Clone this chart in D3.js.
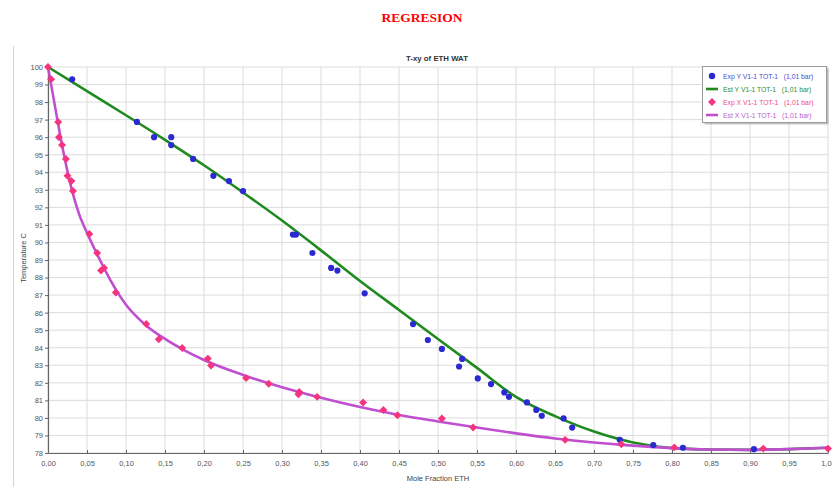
<!DOCTYPE html>
<html><head><meta charset="utf-8">
<script src="https://cdn.jsdelivr.net/npm/d3@7"></script>
<style>body{margin:0;background:#fff;} svg{display:block;}</style>
</head><body><svg id="c" width="832" height="487"></svg>
<script>
const mainTitle = "REGRESION";
const chartTitle = "T-xy of ETH WAT";
const xLabel = "Mole Fraction ETH";
const yLabel = "Temperature C";
const legendLabels = ["Exp Y V1-1 TOT-1   (1,01 bar)", "Est Y V1-1 TOT-1   (1,01 bar)", "Exp X V1-1 TOT-1   (1,01 bar)", "Est X V1-1 TOT-1   (1,01 bar)"];
const xTicks = [0,0.05,0.1,0.15,0.2,0.25,0.3,0.35,0.4,0.45,0.5,0.55,0.6,0.65,0.7,0.75,0.8,0.85,0.9,0.95,1.0];
const yTicks = [78,79,80,81,82,83,84,85,86,87,88,89,90,91,92,93,94,95,96,97,98,99,100];

// Exp Y (vapour) points [x, T]
const expY = [[0.031,99.3],[0.114,96.87],[0.136,96.0],[0.158,96.0],[0.158,95.55],[0.186,94.76],[0.212,93.8],[0.232,93.5],[0.25,92.93],[0.314,90.45],[0.318,90.45],[0.339,89.4],[0.363,88.55],[0.371,88.4],[0.406,87.1],[0.468,85.35],[0.487,84.44],[0.505,83.93],[0.531,83.36],[0.527,82.93],[0.551,82.25],[0.568,81.93],[0.585,81.45],[0.591,81.2],[0.614,80.88],[0.626,80.45],[0.633,80.12],[0.661,79.97],[0.672,79.45],[0.733,78.75],[0.776,78.45],[0.814,78.3],[0.905,78.22]];
// Est Y curve
const estY = [[0,100],[0.05,98.62],[0.1,97.25],[0.15,95.85],[0.2,94.4],[0.25,92.85],[0.3,91.25],[0.35,89.55],[0.4,87.8],[0.45,86.15],[0.5,84.5],[0.55,82.85],[0.6,81.2],[0.65,80.1],[0.7,79.22],[0.75,78.6],[0.8,78.28],[0.85,78.2],[0.9,78.18],[0.95,78.22],[1.0,78.3]];
// Exp X (liquid) points
const expX = [[0,100],[0.004,99.3],[0.013,96.87],[0.014,96.0],[0.018,95.55],[0.023,94.76],[0.025,93.8],[0.030,93.5],[0.032,92.93],[0.053,90.48],[0.063,89.4],[0.068,88.4],[0.072,88.55],[0.087,87.15],[0.126,85.35],[0.142,84.48],[0.172,83.98],[0.205,83.38],[0.209,82.98],[0.254,82.27],[0.283,81.95],[0.322,81.48],[0.321,81.35],[0.345,81.2],[0.404,80.88],[0.430,80.45],[0.448,80.15],[0.505,79.97],[0.545,79.45],[0.663,78.75],[0.735,78.5],[0.803,78.32],[0.917,78.25],[1.0,78.25]];
// Est X curve
const estX = [[0,100],[0.01,97.5],[0.02,95.1],[0.03,93.1],[0.04,91.6],[0.05,90.55],[0.06,89.6],[0.07,88.7],[0.08,87.85],[0.09,87.1],[0.1,86.45],[0.125,85.3],[0.15,84.5],[0.175,83.85],[0.2,83.3],[0.25,82.45],[0.3,81.75],[0.35,81.15],[0.4,80.62],[0.45,80.17],[0.5,79.8],[0.55,79.45],[0.6,79.12],[0.65,78.83],[0.7,78.6],[0.75,78.42],[0.8,78.28],[0.85,78.2],[0.9,78.18],[0.95,78.22],[1.0,78.3]];

const colBlue = "#2a2ad0", colGreen = "#1f8a1f", colPink = "#f5347f", colMag = "#c04fd0";

const svg = d3.select("#c");
const L = 48, R = 828, T = 67, B = 453;
const x = d3.scaleLinear().domain([0,1]).range([L,R]);
const y = d3.scaleLinear().domain([78,100]).range([B,T]);

svg.append("line").attr("x1",13.5).attr("x2",13.5).attr("y1",46).attr("y2",487).attr("stroke","#d4d4d4");

svg.append("text").attr("x",422).attr("y",22).attr("text-anchor","middle")
  .attr("font-family","Liberation Serif, serif").attr("font-weight","bold").attr("font-size",13.5)
  .attr("fill","#ff0000").text(mainTitle);
svg.append("text").attr("x",437).attr("y",61).attr("text-anchor","middle")
  .attr("font-family","Liberation Sans, Arial, sans-serif").attr("font-weight","bold").attr("font-size",7.8)
  .attr("fill","#333").text(chartTitle);

const g = svg.append("g");
g.selectAll(".vg").data(xTicks).join("line").attr("x1",d=>x(d)).attr("x2",d=>x(d)).attr("y1",T).attr("y2",B)
  .attr("stroke","#dcdcdc").attr("stroke-width",1);
g.selectAll(".hg").data(yTicks).join("line").attr("x1",L).attr("x2",R).attr("y1",d=>y(d)).attr("y2",d=>y(d))
  .attr("stroke","#dcdcdc").attr("stroke-width",1);

const fmt = d => d3.format(".2f")(d).replace(".",",");
const xa = svg.append("g").attr("transform",`translate(0,${B})`)
  .call(d3.axisBottom(x).tickValues(xTicks).tickFormat(fmt).tickSizeInner(-3).tickSizeOuter(0).tickPadding(8));
const ya = svg.append("g").attr("transform",`translate(${L},0)`)
  .call(d3.axisLeft(y).tickValues(yTicks).tickFormat(d3.format("d")).tickSizeInner(3).tickSizeOuter(0).tickPadding(2));
[xa,ya].forEach(a=>{
  a.select(".domain").attr("stroke","#666").attr("stroke-width",1.2);
  a.selectAll(".tick line").attr("stroke","#666");
  a.selectAll("text").attr("fill","#555").attr("font-size",7.5).attr("font-family","Liberation Sans, Arial, sans-serif");
});

svg.append("text").attr("x",438).attr("y",481).attr("text-anchor","middle").attr("font-size",7.5)
  .attr("font-family","Liberation Sans, Arial, sans-serif").attr("fill","#444").text(xLabel);
svg.append("text").attr("transform","translate(26,258) rotate(-90)").attr("text-anchor","middle").attr("font-size",7.5)
  .attr("font-family","Liberation Sans, Arial, sans-serif").attr("fill","#444").text(yLabel);

const line = d3.line().x(d=>x(d[0])).y(d=>y(d[1])).curve(d3.curveMonotoneX);
const plot = svg.append("g");
plot.append("path").datum(estY).attr("d",line).attr("fill","none").attr("stroke",colGreen).attr("stroke-width",2.6);
plot.append("path").datum(estX).attr("d",line).attr("fill","none").attr("stroke",colMag).attr("stroke-width",2.6);
plot.selectAll(".by").data(expY).join("circle").attr("cx",d=>x(d[0])).attr("cy",d=>y(d[1])).attr("r",3.1).attr("fill",colBlue);
const dia = d3.symbol().type(d3.symbolDiamond2).size(40);
plot.selectAll(".px").data(expX).join("path").attr("d",dia).attr("transform",d=>`translate(${x(d[0])},${y(d[1])})`).attr("fill",colPink);

const lg = svg.append("g");
lg.append("rect").attr("x",704.5).attr("y",68.5).attr("width",124).attr("height",56).attr("fill","#555").attr("opacity",0.35);
lg.append("rect").attr("x",702.5).attr("y",66.5).attr("width",124).attr("height",56).attr("fill","#fff").attr("stroke","#9a9a9a");
const rows = [
  {t:"dot",c:colBlue,tc:"#4a4ad0"},
  {t:"line",c:colGreen,tc:"#2f8a2f"},
  {t:"dia",c:colPink,tc:"#f04a88"},
  {t:"line",c:colMag,tc:"#c060d0"}
];
rows.forEach((r,i)=>{
  const yy = 76 + i*13;
  if(r.t==="dot") lg.append("circle").attr("cx",712).attr("cy",yy).attr("r",3.2).attr("fill",r.c);
  else if(r.t==="dia") lg.append("path").attr("d",dia).attr("transform",`translate(712,${yy})`).attr("fill",r.c);
  else lg.append("line").attr("x1",706).attr("x2",718).attr("y1",yy).attr("y2",yy).attr("stroke",r.c).attr("stroke-width",2.6);
  lg.append("text").attr("x",723).attr("y",yy+2.5).attr("font-size",6.8).attr("font-family","Liberation Sans, Arial, sans-serif")
    .attr("fill",r.tc).attr("xml:space","preserve").style("white-space","pre").text(legendLabels[i]);
});
</script></body></html>
